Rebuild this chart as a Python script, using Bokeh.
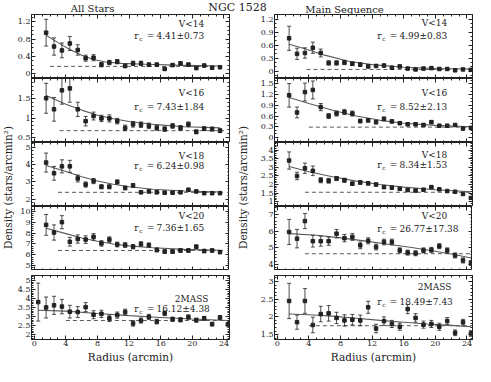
import math
from bokeh.plotting import figure
from bokeh.models import Range1d, Label, LinearAxis, FixedTicker, CustomJSTickFormatter
from bokeh.layouts import column, row
from bokeh.embed import file_html
from bokeh.resources import INLINE

FONT = "DejaVu Serif"
INK = "#222222"
FIT = "#5a5a5a"

# ---------------- data ----------------
x_ticks = [0, 4, 8, 12, 16, 20, 24]

r_left = [1.5, 2.5, 3.5, 4.5, 5.5, 6.5, 7.5, 8.5, 9.5, 10.5, 11.5, 12.5,
          13.5, 14.5, 15.5, 16.5, 17.5, 18.5, 19.5, 20.5, 21.5, 22.5, 23.5]
r_left_2mass = [0.5, 1.5, 2.5, 3.5, 4.5, 5.5, 6.5, 7.5, 8.5, 9.5, 10.5, 11.5, 12.5,
                13.5, 14.5, 15.5, 16.5, 17.5, 18.5, 19.5, 20.5, 21.5, 22.5, 23.5, 24.5]
r_right = [1.5, 2.5, 3.5, 4.5, 5.5, 6.5, 7.5, 8.5, 9.5, 10.5, 11.5, 12.5,
           13.5, 14.5, 15.5, 16.5, 17.5, 18.5, 19.5, 20.5, 21.5, 22.5, 23.5, 24.5]

# All stars
all14_y = [0.95, 0.63, 0.54, 0.70, 0.55, 0.36, 0.37, 0.21, 0.26, 0.28, 0.18, 0.24, 0.24, 0.21, 0.21, 0.11, 0.20, 0.24, 0.21, 0.13, 0.19, 0.14, 0.15]
all14_e = [0.31, 0.20, 0.17, 0.16, 0.12, 0.07, 0.07, 0.05, 0.05, 0.05, 0.04, 0.05, 0.05, 0.04, 0.04, 0.03, 0.03, 0.04, 0.04, 0.03, 0.03, 0.03, 0.03]
all14_fit_r = [1.5, 3, 4.5, 6, 7.5, 9, 11, 14, 18, 23.5]
all14_fit_y = [0.89, 0.72, 0.56, 0.43, 0.33, 0.27, 0.24, 0.22, 0.20, 0.18]
all14_bg = 0.17

all16_y = [1.50, 1.22, 1.70, 1.75, 1.22, 0.92, 1.05, 0.99, 0.99, 0.92, 0.75, 0.84, 0.83, 0.80, 0.75, 0.72, 0.80, 0.75, 0.84, 0.65, 0.73, 0.72, 0.68]
all16_e = [0.38, 0.30, 0.35, 0.35, 0.18, 0.12, 0.10, 0.08, 0.09, 0.07, 0.07, 0.07, 0.07, 0.07, 0.06, 0.06, 0.06, 0.06, 0.06, 0.05, 0.05, 0.05, 0.05]
all16_fit_r = [1.5, 4, 6, 8, 10, 12, 15, 19, 23.5]
all16_fit_y = [1.57, 1.35, 1.20, 1.07, 0.98, 0.91, 0.84, 0.78, 0.75]
all16_bg = 0.68

all18_y = [4.12, 3.50, 3.90, 3.90, 3.20, 2.85, 3.05, 2.72, 2.72, 3.00, 2.65, 2.80, 2.40, 2.45, 2.40, 2.38, 2.38, 2.40, 2.55, 2.45, 2.35, 2.35, 2.35]
all18_e = [0.55, 0.40, 0.38, 0.35, 0.20, 0.15, 0.15, 0.12, 0.12, 0.12, 0.10, 0.10, 0.08, 0.08, 0.08, 0.08, 0.07, 0.07, 0.07, 0.07, 0.07, 0.06, 0.06]
all18_fit_r = [1.5, 4, 6, 8, 10, 12, 15, 19, 23.5]
all18_fit_y = [3.95, 3.60, 3.30, 3.05, 2.87, 2.72, 2.58, 2.48, 2.42]
all18_bg = 2.40

all20_y = [8.75, 8.05, 9.00, 7.20, 7.45, 7.40, 7.65, 7.05, 7.40, 6.95, 6.90, 6.75, 7.00, 6.90, 6.45, 6.30, 6.30, 6.40, 6.40, 6.75, 6.35, 6.40, 6.25]
all20_e = [0.95, 0.70, 0.60, 0.40, 0.38, 0.35, 0.30, 0.25, 0.25, 0.22, 0.22, 0.20, 0.20, 0.18, 0.18, 0.16, 0.16, 0.16, 0.15, 0.15, 0.15, 0.14, 0.14]
all20_fit_r = [1.5, 4, 6, 8, 10, 12, 15, 19, 23.5]
all20_fit_y = [8.45, 7.95, 7.55, 7.25, 7.00, 6.82, 6.65, 6.50, 6.42]
all20_bg = 6.40

all2m_y = [3.80, 3.50, 3.62, 3.55, 3.27, 3.25, 3.52, 3.10, 3.15, 2.90, 3.08, 3.25, 2.62, 2.78, 2.98, 2.72, 3.18, 2.85, 2.82, 2.97, 2.80, 2.90, 2.58, 2.95, 2.57]
all2m_e = [1.05, 0.58, 0.50, 0.40, 0.35, 0.30, 0.25, 0.22, 0.20, 0.18, 0.17, 0.16, 0.15, 0.14, 0.14, 0.13, 0.13, 0.12, 0.12, 0.12, 0.11, 0.11, 0.10, 0.10, 0.10]
all2m_fit_r = [0.5, 4, 8, 12, 16, 20, 24.5]
all2m_fit_y = [3.35, 3.30, 3.17, 3.05, 2.95, 2.86, 2.78]
all2m_bg = 2.78

# Main sequence
ms14_y = [0.76, 0.40, 0.42, 0.54, 0.42, 0.19, 0.19, 0.20, 0.17, 0.15, 0.11, 0.12, 0.13, 0.08, 0.11, 0.06, 0.04, 0.06, 0.07, 0.05, 0.05, 0.02, 0.04, 0.03]
ms14_e = [0.28, 0.13, 0.12, 0.13, 0.09, 0.05, 0.05, 0.05, 0.04, 0.04, 0.03, 0.03, 0.03, 0.03, 0.03, 0.02, 0.02, 0.02, 0.02, 0.02, 0.02, 0.02, 0.02, 0.02]
ms14_fit_r = [1.5, 3.5, 6, 9, 12, 16, 20, 24.5]
ms14_fit_y = [0.62, 0.52, 0.37, 0.23, 0.15, 0.09, 0.06, 0.05]
ms14_bg = 0.04

ms16_y = [1.18, 0.70, 1.27, 1.33, 0.85, 0.60, 0.67, 0.71, 0.67, 0.46, 0.48, 0.43, 0.52, 0.45, 0.40, 0.37, 0.37, 0.35, 0.43, 0.33, 0.33, 0.35, 0.25, 0.27]
ms16_e = [0.33, 0.15, 0.25, 0.25, 0.10, 0.07, 0.07, 0.07, 0.07, 0.05, 0.05, 0.05, 0.05, 0.04, 0.04, 0.04, 0.04, 0.04, 0.04, 0.03, 0.03, 0.03, 0.03, 0.03]
ms16_fit_r = [1.5, 4, 7, 10, 13, 16, 20, 24.5]
ms16_fit_y = [1.12, 0.95, 0.76, 0.60, 0.48, 0.40, 0.34, 0.30]
ms16_bg = 0.29

ms18_y = [3.40, 2.50, 2.95, 2.80, 2.25, 2.22, 2.35, 2.25, 2.05, 2.12, 2.07, 2.00, 1.85, 1.82, 1.75, 1.68, 1.65, 1.70, 1.85, 1.72, 1.62, 1.58, 1.45, 1.22]
ms18_e = [0.50, 0.22, 0.30, 0.28, 0.15, 0.14, 0.12, 0.12, 0.10, 0.10, 0.10, 0.09, 0.08, 0.08, 0.08, 0.07, 0.07, 0.07, 0.07, 0.07, 0.06, 0.06, 0.06, 0.06]
ms18_fit_r = [1.5, 4, 7, 10, 13, 16, 20, 24.5]
ms18_fit_y = [3.05, 2.75, 2.45, 2.20, 2.00, 1.85, 1.70, 1.58]
ms18_bg = 1.55

ms20_y = [5.95, 5.55, 6.60, 5.40, 5.40, 5.40, 5.85, 5.58, 5.65, 5.15, 5.42, 5.05, 5.35, 5.35, 4.85, 4.72, 4.68, 4.85, 4.88, 5.10, 4.85, 4.55, 4.25, 4.10]
ms20_e = [0.75, 0.55, 0.45, 0.35, 0.30, 0.25, 0.25, 0.22, 0.20, 0.20, 0.18, 0.17, 0.17, 0.17, 0.15, 0.15, 0.15, 0.15, 0.15, 0.15, 0.15, 0.15, 0.15, 0.15]
ms20_fit_r = [1.5, 5, 8, 11, 14, 17, 20, 23, 24.5]
ms20_fit_y = [5.85, 5.75, 5.60, 5.42, 5.22, 5.02, 4.80, 4.55, 4.40]
ms20_bg = 4.65

ms2m_y = [2.45, 1.85, 2.45, 1.77, 2.08, 2.10, 1.97, 1.90, 1.92, 1.90, 2.27, 1.67, 1.88, 1.80, 1.72, 2.22, 1.97, 1.78, 1.80, 1.72, 1.88, 1.55, 1.85, 1.53]
ms2m_e = [0.50, 0.20, 0.35, 0.22, 0.22, 0.22, 0.16, 0.16, 0.15, 0.15, 0.17, 0.12, 0.12, 0.10, 0.10, 0.13, 0.12, 0.10, 0.10, 0.10, 0.10, 0.08, 0.08, 0.08]
ms2m_fit_r = [1.5, 4, 7, 10, 13, 16, 19, 22, 24.5]
ms2m_fit_y = [2.08, 2.06, 2.02, 1.96, 1.90, 1.85, 1.80, 1.76, 1.72]
ms2m_bg = 1.75

tags = ["V<14", "V<16", "V<18", "V<20", "2MASS"]
rc_all = ["4.41\u00b10.73", "7.43\u00b11.84", "6.24\u00b10.98", "7.36\u00b11.65", "16.12\u00b14.38"]
rc_ms = ["4.99\u00b10.83", "8.52\u00b12.13", "8.34\u00b11.53", "26.77\u00b117.38", "18.49\u00b17.43"]

# ---------------- layout constants ----------------
X_RANGE = (-0.35, 24.7)
FW = 198
FH = 64
GAP = 5
FOOT = 26
HEAD = 14
LAB_L = 14
LAB_R = 26


def style_axis(ax, ticks, minor, show):
    ax.ticker = FixedTicker(ticks=ticks, minor_ticks=minor)
    ax.major_tick_in = 4
    ax.major_tick_out = 0
    ax.minor_tick_in = 2
    ax.minor_tick_out = 0
    ax.axis_line_color = INK
    ax.major_tick_line_color = INK
    ax.minor_tick_line_color = INK
    ax.axis_line_width = 1
    if show:
        ax.formatter = CustomJSTickFormatter(code="return String(Math.round(tick*100)/100);")
        ax.major_label_text_font = FONT
        ax.major_label_text_font_size = "8px"
        ax.major_label_text_color = INK
        ax.major_label_standoff = 1
    else:
        ax.formatter = CustomJSTickFormatter(code="return '';")
        ax.major_label_text_font_size = "0px"
        ax.major_label_standoff = 0


def panel(r, y, e, fit_r, fit_y, bg, bg_span, yr, yticks, ystep, tag, rc, offs, bottom):
    lo, hi = yr
    p = figure(frame_width=FW, frame_height=FH,
               x_range=Range1d(*X_RANGE), y_range=Range1d(lo, hi),
               output_backend="svg", toolbar_location=None,
               min_border_left=15, min_border_right=2,
               min_border_top=GAP if bottom else 0,
               min_border_bottom=FOOT if bottom else 0)
    p.grid.visible = False
    p.outline_line_color = INK
    p.background_fill_color = "white"
    p.border_fill_color = "white"

    x_minor = [float(v) for v in range(0, 25)]
    n = int(round((hi - lo) / ystep)) + 2
    start = math.floor(lo / ystep) * ystep
    y_minor = [round(start + i * ystep, 4) for i in range(n + 1)]

    style_axis(p.xaxis[0], x_ticks, x_minor, bottom)
    style_axis(p.yaxis[0], yticks, y_minor, True)
    if bottom:
        p.xaxis[0].axis_label = "Radius (arcmin)"
        p.xaxis[0].axis_label_text_font = FONT
        p.xaxis[0].axis_label_text_font_size = "10.5px"
        p.xaxis[0].axis_label_text_font_style = "normal"
        p.xaxis[0].axis_label_text_color = INK
        p.xaxis[0].axis_label_standoff = 2
    top_ax = LinearAxis()
    style_axis(top_ax, x_ticks, x_minor, False)
    p.add_layout(top_ax, "above")
    right_ax = LinearAxis()
    style_axis(right_ax, yticks, y_minor, False)
    p.add_layout(right_ax, "right")

    lower = [a - b for a, b in zip(y, e)]
    upper = [a + b for a, b in zip(y, e)]

    p.line(fit_r, fit_y, line_color=FIT, line_width=1.1)
    p.line(bg_span, [bg, bg], line_color=FIT, line_width=1, line_dash="4 3")
    p.segment(x0=r, y0=lower, x1=r, y1=upper, line_color=INK, line_width=0.8)
    p.scatter(r, lower, marker="dash", size=4, line_color=INK, line_width=0.8)
    p.scatter(r, upper, marker="dash", size=4, line_color=INK, line_width=0.8)
    p.scatter(r, y, marker="square", size=3.5, fill_color=INK, line_color=INK)

    sx = (X_RANGE[1] - X_RANGE[0]) / FW
    sy = (hi - lo) / FH
    xr = X_RANGE[1]
    off_t, off_r = offs
    common = dict(text_font=FONT, text_color=INK, text_baseline="middle")
    p.add_layout(Label(x=xr - 38 * sx, y=hi - off_t * sy, text=tag,
                       text_align="center", text_font_size="9px", **common))
    p.add_layout(Label(x=xr - 93 * sx, y=hi - off_r * sy, text="r",
                       text_align="center", text_font_size="9px", **common))
    p.add_layout(Label(x=xr - 88.5 * sx, y=hi - (off_r + 3) * sy, text="c",
                       text_align="center", text_font_size="6px", **common))
    p.add_layout(Label(x=xr - 79 * sx, y=hi - off_r * sy, text="=",
                       text_align="center", text_font_size="9px", **common))
    p.add_layout(Label(x=xr - 73 * sx, y=hi - off_r * sy, text=rc,
                       text_align="left", text_font_size="9px", **common))
    return p


left_panels = [
    panel(r_left, all14_y, all14_e, all14_fit_r, all14_fit_y, all14_bg, [2.0, 24.0],
          (-0.11, 1.37), [0, 0.4, 0.8, 1.2], 0.1, tags[0], rc_all[0], (9, 21), False),
    panel(r_left, all16_y, all16_e, all16_fit_r, all16_fit_y, all16_bg, [3.2, 24.0],
          (0.38, 2.0), [0.5, 1, 1.5], 0.1, tags[1], rc_all[1], (14, 28), False),
    panel(r_left, all18_y, all18_e, all18_fit_r, all18_fit_y, all18_bg, [3.0, 24.0],
          (1.58, 5.28), [2, 3, 4, 5], 0.2, tags[2], rc_all[2], (13, 23), False),
    panel(r_left, all20_y, all20_e, all20_fit_r, all20_fit_y, all20_bg, [3.0, 24.0],
          (4.56, 10.44), [5, 6, 7, 8, 9, 10], 0.2, tags[3], rc_all[3], (9, 21), False),
    panel(r_left_2mass, all2m_y, all2m_e, all2m_fit_r, all2m_fit_y, all2m_bg, [4.0, 24.6],
          (1.73, 5.27), [2, 2.5, 3, 3.5, 4, 4.5, 5], 0.1, tags[4], rc_all[4], (23, 33), True),
]

right_panels = [
    panel(r_right, ms14_y, ms14_e, ms14_fit_r, ms14_fit_y, ms14_bg, [3.7, 24.6],
          (-0.17, 1.31), [0, 0.3, 0.6, 0.9, 1.2], 0.1, tags[0], rc_ms[0], (8, 21), False),
    panel(r_right, ms16_y, ms16_e, ms16_fit_r, ms16_fit_y, ms16_bg, [4.0, 24.6],
          (-0.14, 1.65), [0, 0.3, 0.6, 0.9, 1.2, 1.5], 0.1, tags[1], rc_ms[1], (14, 28), False),
    panel(r_right, ms18_y, ms18_e, ms18_fit_r, ms18_fit_y, ms18_bg, [3.5, 24.6],
          (0.72, 4.45), [1, 1.5, 2, 2.5, 3, 3.5, 4], 0.1, tags[2], rc_ms[2], (12, 22), False),
    panel(r_right, ms20_y, ms20_e, ms20_fit_r, ms20_fit_y, ms20_bg, [3.5, 24.6],
          (3.65, 7.47), [4, 5, 6, 7], 0.2, tags[3], rc_ms[3], (9, 22), False),
    panel(r_right, ms2m_y, ms2m_e, ms2m_fit_r, ms2m_fit_y, ms2m_bg, [4.0, 24.7],
          (1.36, 3.17), [1.5, 2, 2.5, 3], 0.1, tags[4], rc_ms[4], (11, 26), True),
]

BODY_H = 4 * FH + (GAP + FH + FOOT)


def ylabel_fig(w, cx):
    f = figure(frame_width=w, frame_height=BODY_H, x_range=Range1d(0, w),
               y_range=Range1d(0, BODY_H), x_axis_type=None, y_axis_type=None,
               output_backend="svg", toolbar_location=None,
               min_border_left=0, min_border_right=0, min_border_top=0, min_border_bottom=0)
    f.grid.visible = False
    f.outline_line_color = None
    f.add_layout(Label(x=cx, y=BODY_H - (195 - (8 + HEAD)), text="Density (stars/arcmin\u00b2)",
                       angle=math.pi / 2, text_align="center", text_baseline="middle",
                       text_font=FONT, text_font_size="10.5px", text_color=INK))
    return f


TOTAL_W = LAB_L + 15 + FW + 2 + LAB_R + 15 + FW + 2
hdr = figure(frame_width=TOTAL_W, frame_height=HEAD, x_range=Range1d(0, TOTAL_W), y_range=Range1d(0, HEAD),
             x_axis_type=None, y_axis_type=None, output_backend="svg", toolbar_location=None,
             min_border_left=0, min_border_right=0, min_border_top=0, min_border_bottom=0)
hdr.grid.visible = False
hdr.outline_line_color = None
hdr.add_layout(Label(x=237, y=HEAD / 2 + 0.5, text="NGC 1528", text_align="center", text_baseline="middle",
                     text_font=FONT, text_font_size="11px", text_color=INK))
hdr.add_layout(Label(x=92, y=HEAD / 2 - 1, text="All Stars", text_align="center", text_baseline="middle",
                     text_font=FONT, text_font_size="10px", text_color=INK))
hdr.add_layout(Label(x=344, y=HEAD / 2 - 1.5, text="Main Sequence", text_align="center", text_baseline="middle",
                     text_font=FONT, text_font_size="10px", text_color=INK))

body = row(ylabel_fig(LAB_L, 7), column(*left_panels), ylabel_fig(LAB_R, 11), column(*right_panels))
layout = column(hdr, body)

open("out.html", "w").write(file_html(layout, INLINE))
